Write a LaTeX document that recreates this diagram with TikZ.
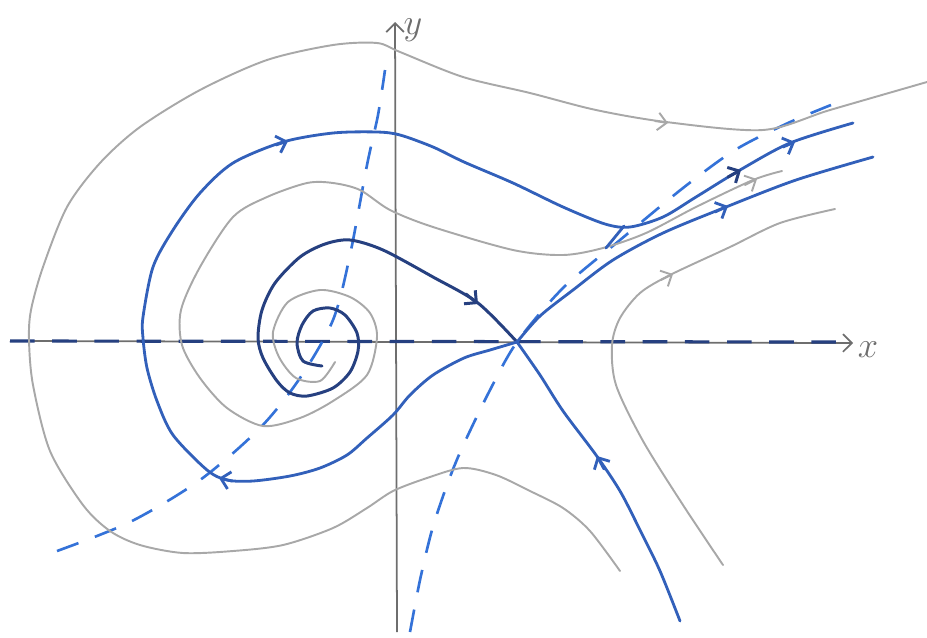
\documentclass[tikz,border=0pt]{standalone}
\usepackage{amsmath}
\usepackage{xcolor}
\usepackage{tikz}
\usetikzlibrary{arrows.meta}
\definecolor{traj}{RGB}{50,96,186}
\definecolor{trajdark}{RGB}{38,64,128}
\definecolor{ncline}{RGB}{52,114,216}
\definecolor{pencil}{RGB}{168,168,168}
\definecolor{axisgray}{RGB}{110,110,110}

\begin{document}
\begin{tikzpicture}[x=0.2mm,y=-0.2mm,>={Straight Barb[length=5pt,width=10pt]},
    orbit/.style={traj,line width=1.6pt,line cap=round,line join=round},
    orbitdark/.style={trajdark,line width=1.7pt,line cap=round,line join=round},
    faint/.style={pencil,line width=1.1pt,line cap=round,line join=round},
    nullc/.style={ncline,line width=1.5pt,dash pattern=on 13pt off 10pt},
    axisline/.style={axisgray,line width=1pt}]
    \useasboundingbox (0,0) rectangle (927,637);
    \coordinate (saddle) at (517,342);
    \coordinate (focus) at (325,348);
    % axes
    \draw[axisline,->] (10,341) -- (853,343);
    \draw[axisline,->] (397,632) -- (395,22);
    \node[axisgray,font=\huge] (xlab) at (868,350) {$x$};
    \node[axisgray,font=\huge] (ylab) at (413,30) {$y$};
    \draw[trajdark,line width=1.8pt,dash pattern=on 14pt off 10pt] (10,341) -- (842,342);
    % nullclines
    \draw[nullc] plot[smooth] coordinates {(57,551) (130,522) (200,480) (260,428)
      (300,378) (333,320) (350,255) (367,165) (378,115) (385,70)};
    \draw[nullc] plot[smooth] coordinates {(410,632) (420,580) (432,530) (447,485)
      (462,448) (490,390) (saddle) (563,288) (620,240) (683,188) (735,150)
      (788,123) (831,105)};
    % grey trajectories
    \draw[faint] plot[smooth] coordinates {(620,571) (590,531) (563,508) (530,491)
      (496,475) (463,468) (427,478) (393,491) (367,508) (333,528) (283,545)
      (233,551) (183,553) (140,545) (110,531) (83,505) (50,451) (33,385)
      (29,340) (31,310) (43,267) (67,207) (100,163) (140,127) (200,90)
      (267,60) (333,45) (377,43) (400,52) (463,77) (530,93) (596,110)
      (666,122) (763,130) (830,110) (927,82)};
    \draw[faint] plot[smooth] coordinates {(335,362) (320,381) (296,378) (279,357)
      (273,332) (288,302) (320,290) (350,297) (370,313) (377,337) (367,375)
      (333,401) (300,418) (263,426) (227,408) (200,378) (182,345) (181,310)
      (200,267) (233,217) (267,197) (307,183) (333,183) (360,190) (390,210)
      (433,227) (513,250) (563,255) (603,248) (646,233) (696,207) (753,180)
      (782,171)};
    \draw[faint] plot[smooth] coordinates {(723,565) (683,505) (643,441) (616,385)
      (612,345) (620,318) (640,293) (670,275) (730,247) (780,223) (835,209)};
    \draw[faint,->] (655,121) -- (668,123);
    \draw[faint,->] (745,185) -- (757,179);
    \draw[faint,->] (661,280) -- (673,274);
    % spiral out of the focus into the saddle
    \draw[orbitdark] plot[smooth] coordinates {(322,366) (303,361) (297,343)
      (302,325) (313,311) (330,308) (345,315) (357,333) (358,351) (350,372)
      (333,388) (307,396) (290,393) (277,381) (263,358) (258,338) (262,310)
      (275,283) (300,257) (325,244) (350,240) (383,250) (433,277) (478,303)
      (saddle)};
    \draw[orbitdark,->] (466,294) -- (478,304);
    % separatrices
    \draw[orbit] plot[smooth] coordinates {(saddle) (490,350) (464,358) (433,375)
      (410,395) (393,415) (367,438) (347,455) (320,468) (290,476) (253,481)
      (227,480) (207,470) (173,435) (157,401) (147,368) (143,338) (143,317)
      (153,267) (173,230) (200,193) (233,163) (283,142) (333,133) (377,132)
      (400,135) (433,147) (464,162) (513,183) (563,207) (605,224) (630,227)
      (663,217) (696,197) (740,170) (790,143) (853,123)};
    \draw[orbit] plot[smooth] coordinates {(saddle) (540,316) (573,290) (613,260)
      (663,233) (726,207) (796,180) (873,157)};
    \draw[orbit] plot[smooth] coordinates {(680,621) (660,571) (640,530) (620,491)
      (596,455) (563,411) (540,375) (saddle)};
    \draw[orbit] (606,248) -- (624,226);
    \draw[orbit,->] (276,145) -- (288,141);
    \draw[orbit,->] (232,481) -- (219,478);
    \draw[orbitdark,->] (728,177) -- (741,170);
    \draw[orbit,->] (783,147) -- (795,142);
    \draw[orbit,->] (715,212) -- (728,206);
    \draw[orbit,->] (604,469) -- (597,456);
\end{tikzpicture}
\end{document}
